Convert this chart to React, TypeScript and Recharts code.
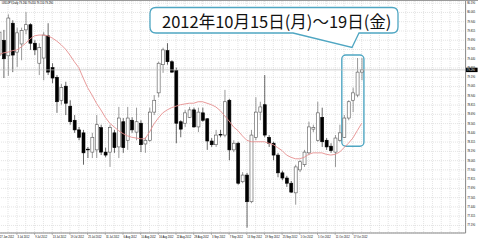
import React from 'react';
import { ComposedChart, Bar, Line, XAxis, YAxis, CartesianGrid, ReferenceLine, ReferenceArea } from 'recharts';

// USDJPY daily, 27 Jun 2012 .. 19 Oct 2012 (one value per bar)
const opens = [
  79.49, 79.69, 79.48, 79.92, 79.53, 79.64, 79.83, 79.90, 79.65, 79.38,
  79.45, 79.75, 79.32, 79.19, 78.88, 79.07, 78.80, 78.61, 78.48, 78.44,
  78.22, 78.18, 78.21, 78.51, 78.18, 78.18, 78.44, 78.25, 78.59, 78.34,
  78.61, 78.45, 78.57, 78.29, 78.34, 78.72, 78.98, 79.36, 79.55, 79.40,
  79.28, 78.59, 78.57, 78.65, 78.75, 78.52, 78.71, 78.63, 78.33, 78.28,
  78.42, 78.41, 78.88, 78.21, 78.30, 77.78, 77.87, 77.51, 78.38, 78.72,
  78.82, 78.38, 78.30, 78.14, 77.90, 77.83, 77.76, 77.63, 77.94, 78.01,
  78.17, 78.49, 78.34, 78.65, 78.34, 78.26, 78.18, 78.34, 78.38, 78.64,
  78.88, 78.95, 79.26,
];
const highs = [
  79.86, 79.83, 80.04, 79.96, 79.86, 79.86, 80.07, 79.92, 79.69, 79.65,
  79.80, 79.92, 79.38, 79.22, 79.10, 79.13, 78.88, 78.68, 78.52, 78.48,
  78.25, 78.44, 78.68, 78.55, 78.24, 78.55, 78.48, 78.79, 78.64, 78.79,
  78.65, 78.78, 78.61, 78.38, 78.78, 78.95, 79.40, 79.59, 79.65, 79.42,
  79.32, 78.61, 78.75, 78.79, 78.78, 78.78, 78.78, 78.64, 78.37, 78.48,
  78.48, 79.02, 78.90, 78.34, 78.32, 77.91, 77.90, 78.48, 78.92, 78.86,
  79.22, 78.41, 78.32, 78.17, 77.93, 77.86, 77.79, 78.01, 78.07, 78.21,
  78.59, 78.55, 78.86, 78.78, 78.37, 78.30, 78.41, 78.55, 78.68, 78.88,
  79.05, 79.45, 79.45,
];
const lows = [
  79.18, 79.18, 79.21, 79.26, 79.33, 79.42, 79.77, 79.56, 79.49, 79.22,
  79.15, 79.22, 79.11, 78.71, 78.82, 78.68, 78.55, 78.44, 78.34, 78.01,
  78.10, 78.10, 78.10, 78.14, 78.11, 77.98, 78.17, 78.10, 78.17, 78.21,
  78.44, 78.34, 78.18, 78.17, 78.32, 78.68, 78.92, 79.25, 79.36, 79.25,
  78.30, 78.38, 78.52, 78.64, 78.51, 78.45, 78.59, 78.21, 78.25, 78.25,
  78.38, 78.38, 78.07, 78.18, 77.74, 77.76, 77.16, 77.49, 78.34, 78.61,
  78.38, 78.25, 78.07, 77.84, 77.80, 77.71, 77.63, 77.47, 77.91, 77.98,
  78.14, 78.45, 78.32, 78.25, 78.21, 78.17, 77.98, 78.32, 78.37, 78.61,
  78.72, 78.92, 79.15,
];
const closes = [
  79.80, 79.44, 79.99, 79.49, 79.79, 79.82, 79.90, 79.65, 79.56, 79.59,
  79.76, 79.26, 79.18, 78.86, 79.05, 78.84, 78.59, 78.48, 78.38, 78.17,
  78.21, 78.38, 78.55, 78.18, 78.14, 78.51, 78.24, 78.64, 78.24, 78.64,
  78.48, 78.59, 78.28, 78.34, 78.72, 78.88, 79.38, 79.56, 79.40, 79.26,
  78.57, 78.49, 78.71, 78.75, 78.52, 78.72, 78.61, 78.33, 78.28, 78.41,
  78.41, 78.86, 78.21, 78.30, 77.76, 77.87, 77.51, 78.41, 78.72, 78.79,
  78.41, 78.30, 78.14, 77.90, 77.83, 77.76, 77.64, 77.98, 78.05, 78.18,
  78.52, 78.51, 78.71, 78.32, 78.25, 78.20, 78.37, 78.44, 78.64, 78.86,
  78.98, 79.26, 79.29,
];
// moving average line as drawn
const maValues = [
  79.50, 79.52, 79.53, 79.55, 79.56, 79.60, 79.65, 79.71, 79.75, 79.76,
  79.76, 79.75, 79.72, 79.68, 79.63, 79.57, 79.49, 79.40, 79.32, 79.18,
  79.05, 78.95, 78.84, 78.75, 78.65, 78.57, 78.52, 78.47, 78.43, 78.40,
  78.38, 78.37, 78.36, 78.36, 78.45, 78.56, 78.64, 78.71, 78.75, 78.78,
  78.80, 78.82, 78.83, 78.84, 78.84, 78.86, 78.86, 78.84, 78.82, 78.79,
  78.74, 78.67, 78.60, 78.52, 78.47, 78.40, 78.34, 78.32, 78.32, 78.32,
  78.32, 78.30, 78.28, 78.24, 78.20, 78.14, 78.11, 78.09, 78.09, 78.11,
  78.15, 78.17, 78.17, 78.17, 78.15, 78.14, 78.15, 78.18, 78.24, 78.30,
  78.37, 78.47, 78.57,
];
// one label every 4 bars
const dateLabels = [
  '27 Jun 2012', '3 Jul 2012', '9 Jul 2012', '13 Jul 2012', '19 Jul 2012', '25 Jul 2012',
  '31 Jul 2012', '6 Aug 2012', '10 Aug 2012', '16 Aug 2012', '22 Aug 2012', '28 Aug 2012',
  '3 Sep 2012', '7 Sep 2012', '13 Sep 2012', '19 Sep 2012', '25 Sep 2012', '1 Oct 2012',
  '5 Oct 2012', '11 Oct 2012', '17 Oct 2012',
];
const priceTicks = [
  80.19, 80.065, 79.94, 79.815, 79.69, 79.565, 79.44, 79.315, 79.19, 79.065,
  78.94, 78.815, 78.69, 78.565, 78.44, 78.315, 78.19, 78.065, 77.94, 77.815,
  77.69, 77.565, 77.44, 77.315, 77.19,
];
const emptySlots = 23; // free space right of the last bar
const highlightBars = [78, 82]; // 15 Oct .. 19 Oct
const highlightPrices = [78.26, 79.49];
const calloutText = '2012年10月15日(月)～19日(金)';

const data = Array.from({ length: opens.length + emptySlots }, (_, i) => ({
  idx: i,
  open: opens[i],
  high: highs[i],
  low: lows[i],
  close: closes[i],
  ma: maValues[i],
}));

const last = opens.length - 1;
const font = "'Liberation Sans', Arial, sans-serif";

const Candle = (props: any) => {
  const { x, y, width, height, payload } = props;
  if (!payload || payload.open == null) return null;
  const { open, close, high, low } = payload;
  const top = Math.min(y, y + height);
  const h = Math.abs(height);
  const k = high === low ? 0 : h / (high - low);
  const yOf = (v: number) => top + (high - v) * k;
  const cx = x + width / 2;
  const up = close >= open;
  const bTop = yOf(Math.max(open, close));
  const bH = Math.max(0.7, Math.abs(yOf(open) - yOf(close)));
  const col = up ? '#555' : '#000';
  return (
    <g>
      <line x1={cx} x2={cx} y1={top} y2={top + h} stroke={col} strokeWidth={0.6} />
      <rect x={x} y={bTop} width={width} height={bH} fill={up ? '#fff' : '#000'} stroke={col} strokeWidth={0.6} />
    </g>
  );
};

const DateTick = (props: any) => {
  const { x, y, payload } = props;
  const j = payload.value;
  if (j % 4 !== 0 || j / 4 >= dateLabels.length) return null;
  return (
    <g>
      <line x1={x} x2={x} y1={y - 1} y2={y + 1} stroke="#777" strokeWidth={0.5} />
      <text x={x + 0.6} y={y + 3.6} fontSize={2.6} fontFamily={font} fill="#000" textAnchor="start">
        {dateLabels[j / 4]}
      </text>
    </g>
  );
};

const BidLabel = (props: any) => {
  const vb = props.viewBox;
  if (!vb) return null;
  const x = vb.x + vb.width;
  return (
    <g>
      <rect x={x} y={vb.y - 2.2} width={12} height={4.4} fill="#000" />
      <text x={x + 1.5} y={vb.y + 0.9} fontSize={2.6} fontFamily={font} fill="#fff">
        {closes[last].toFixed(3)}
      </text>
    </g>
  );
};

export default function App() {
  return (
    <div style={{ position: 'absolute', left: 0, top: 0, width: 478, height: 240, overflow: 'hidden', background: '#fff' }}>
      <div style={{ position: 'absolute', left: 0, top: 0, width: 478, height: 1, background: '#9a9a9a' }} />
      <div style={{ position: 'absolute', left: -2.6, top: 1 }}>
        <ComposedChart width={480.6} height={239} data={data} margin={{ top: 0, right: 0, bottom: 0, left: 0 }}>
          <CartesianGrid stroke="#d2d2d2" strokeDasharray="1 1" strokeWidth={0.6} />
          <XAxis
            dataKey="idx"
            type="category"
            interval={1}
            height={7}
            tickSize={1}
            tickMargin={0}
            tickLine={false}
            stroke="#888"
            tick={<DateTick />}
          />
          <YAxis
            orientation="right"
            type="number"
            domain={[77.088, 80.22]}
            allowDataOverflow
            ticks={priceTicks}
            interval={0}
            width={12}
            tickSize={0}
            tickMargin={1.6}
            stroke="#888"
            tick={{ fontSize: 2.6, fill: '#000', fontFamily: font }}
            tickFormatter={(v: number) => v.toFixed(3)}
          />
          <ReferenceLine y={closes[last]} stroke="#bdbdbd" strokeWidth={0.7} label={<BidLabel />} />
          <Bar
            dataKey={(d: any) => (d.low == null ? null : [d.low, d.high])}
            barSize={3}
            shape={<Candle />}
            isAnimationActive={false}
          />
          <Line dataKey="ma" type="linear" stroke="#e58e8e" strokeWidth={0.9} dot={false} isAnimationActive={false} />
          <ReferenceArea
            x1={highlightBars[0]}
            x2={highlightBars[1]}
            y1={highlightPrices[0]}
            y2={highlightPrices[1]}
            shape={(p: any) => (
              <rect x={p.x} y={p.y} width={p.width} height={p.height} rx={4} fill="none" stroke="#4fa6c2" strokeWidth={1.4} />
            )}
          />
        </ComposedChart>
      </div>
      <svg width={478} height={240} style={{ position: 'absolute', left: 0, top: 0, pointerEvents: 'none' }}>
        <text x={2} y={4} fontSize={2.6} fontFamily={font} fill="#000">
          {`USDJPY,Daily  ${opens[last].toFixed(3)} ${highs[last].toFixed(3)} ${lows[last].toFixed(3)} ${closes[last].toFixed(3)}`}
        </text>
        <path
          d="M156 7.5 H392 Q398 7.5 398 13.5 V27 Q398 33 392 33 H359 L352 47.5 L293 33 H156 Q150 33 150 27 V13.5 Q150 7.5 156 7.5 Z"
          fill="#fff"
          stroke="#4fa6c2"
          strokeWidth={1.3}
        />
        <text x={162} y={28} fontSize={16.5} fontFamily="'Noto Sans CJK JP', sans-serif" fill="#111">
          {calloutText}
        </text>
      </svg>
    </div>
  );
}
